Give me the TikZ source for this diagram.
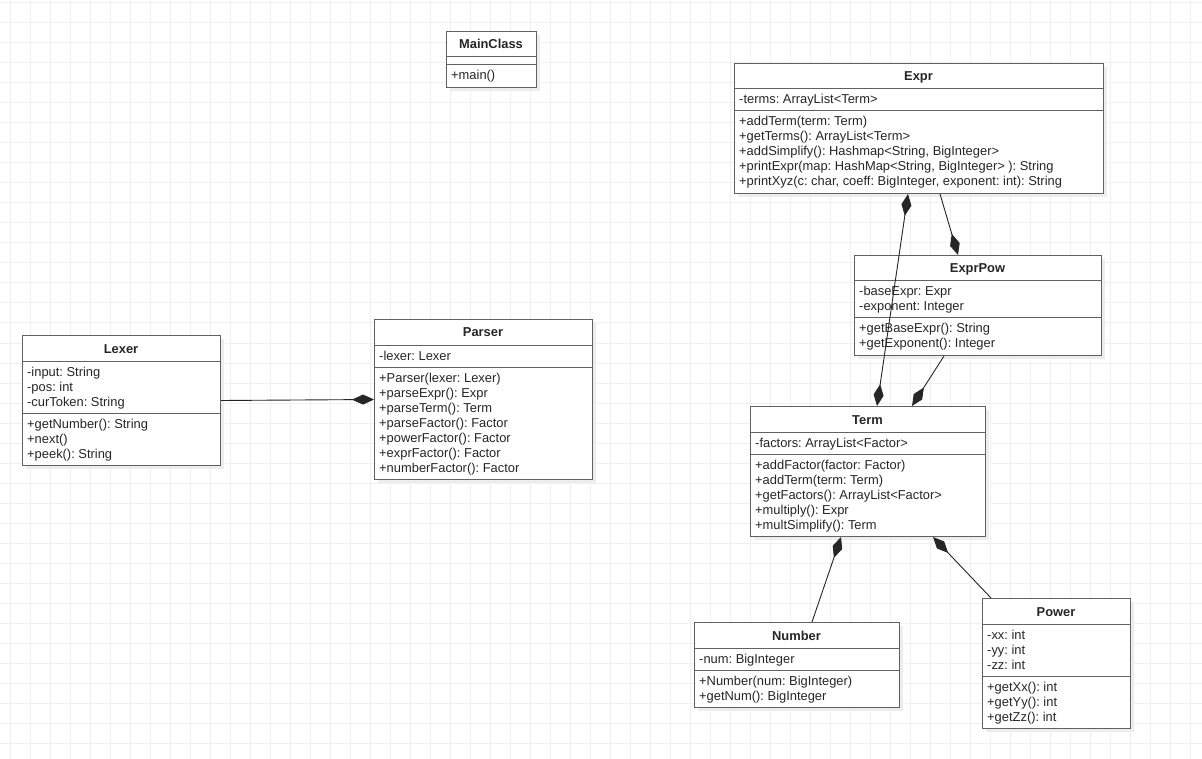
\documentclass[tikz,border=0pt]{standalone}
\usepackage{fontspec}
\setmainfont{Liberation Sans}
\usetikzlibrary{arrows.meta}
\frenchspacing

% class box: name, left, top, width, #attrs, #methods, title, attrs, methods
\newcommand{\umlclass}[9]{%
  \pgfmathsetmacro{\clsa}{#5==0 ? 8 : 7+15*#5}
  \pgfmathsetmacro{\clsm}{7+15*#6}
  \pgfmathsetmacro{\clsh}{26+\clsa+\clsm}
  \fill[clsshadow] (#2+4,#3+4) rectangle ++(#4,\clsh);
  \node[clsbox, anchor=north west, minimum width=#4pt, minimum height=\clsh pt] (#1) at (#2,#3) {};
  \node[clstitle] (#1-t) at (#2+#4/2,#3+18) {#7};
  \draw[clsline] (#2,#3+26) -- ++(#4,0);
  \draw[clsline] (#2,#3+26+\clsa) -- ++(#4,0);
  \ifnum#5>0
    \foreach \m [count=\i] in {#8}
      \node[member] (#1-a\i) at (#2+5,#3+41+15*\i-15) {\m};
  \fi
  \foreach \m [count=\i] in {#9}
    \node[member] (#1-m\i) at (#2+5,#3+41+\clsa+15*\i-15) {\m};
}

\begin{document}
\begin{tikzpicture}[x=1pt, y=-1pt,
    clsbox/.style={draw=black!62, fill=white, line width=1pt, inner sep=0pt},
    clsshadow/.style={fill=black!7},
    clsline/.style={draw=black!62, line width=1pt},
    clstitle/.style={anchor=base, inner sep=0pt, text=black!85,
      font=\fontsize{12.9}{15}\selectfont\bfseries},
    member/.style={anchor=base west, inner sep=0pt, text=black!85,
      font=\fontsize{12.9}{15}\selectfont},
    assoc/.style={draw=black!85, line width=0.9pt},
    comp/.style={assoc, -{Diamond[length=22pt, width=10pt]}},
    compboth/.style={assoc, {Diamond[length=22pt, width=10pt]}-{Diamond[length=22pt, width=10pt]}}]

    \fill[white] (0,0) rectangle (1202,759);
    \useasboundingbox (0,0) rectangle (1202,759);
    \foreach \x in {10,30,...,1190} \draw[black!6, line width=1pt] (\x,0) -- (\x,759);
    \foreach \y in {3,23,...,743} \draw[black!6, line width=1pt] (0,\y) -- (1202,\y);

    \umlclass{main}{446}{31}{90}{0}{1}{MainClass}{}{+main()}
    \umlclass{expr}{734}{63}{369}{1}{5}{Expr}{-terms: ArrayList<Term>}%
      {+addTerm(term: Term), +getTerms(): ArrayList<Term>,
       {+addSimplify(): Hashmap<String, BigInteger>},
       {+printExpr(map: HashMap<String, BigInteger> ): String},
       {+printXyz(c: char, coeff: BigInteger, exponent: int): String}}
    \umlclass{exprpow}{854}{255}{247}{2}{2}{ExprPow}%
      {-baseExpr: Expr, -exponent: Integer}%
      {+getBaseExpr(): String, +getExponent(): Integer}
    \umlclass{lexer}{22}{335}{198}{3}{3}{Lexer}%
      {-input: String, -pos: int, -curToken: String}%
      {+getNumber(): String, +next(), +peek(): String}
    \umlclass{parser}{374}{319}{218}{1}{7}{Parser}{-lexer: Lexer}%
      {+Parser(lexer: Lexer), +parseExpr(): Expr, +parseTerm(): Term,
       +parseFactor(): Factor, +powerFactor(): Factor,
       +exprFactor(): Factor, +numberFactor(): Factor}
    \umlclass{term}{750}{406}{235}{1}{5}{Term}{-factors: ArrayList<Factor>}%
      {+addFactor(factor: Factor), +addTerm(term: Term),
       +getFactors(): ArrayList<Factor>, +multiply(): Expr,
       +multSimplify(): Term}
    \umlclass{number}{694}{622}{205}{1}{2}{Number}{-num: BigInteger}%
      {+Number(num: BigInteger), +getNum(): BigInteger}
    \umlclass{power}{982}{598}{148}{3}{3}{Power}%
      {-xx: int, -yy: int, -zz: int}%
      {+getXx(): int, +getYy(): int, +getZz(): int}

    % connectors
    \draw[comp] (lexer.east) -- (parser.west);
    \draw[compboth] ([xshift=174pt]expr.south west) -- ([xshift=127pt]term.north west);
    \draw[comp] ([xshift=206pt]expr.south west) -- ([xshift=104pt]exprpow.north west);
    \draw[comp] ([xshift=90pt]exprpow.south west) -- ([xshift=162pt]term.north west);
    \draw[comp] ([xshift=118pt]number.north west) -- ([xshift=91pt]term.south west);
    \draw[comp] ([xshift=9pt]power.north west) -- ([xshift=183pt]term.south west);
\end{tikzpicture}
\end{document}
